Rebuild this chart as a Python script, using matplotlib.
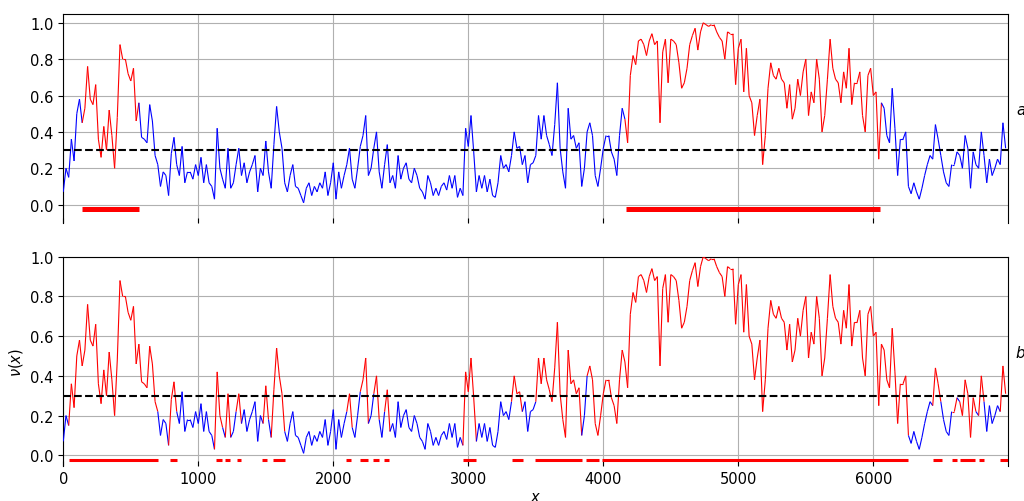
import numpy as np
import matplotlib
matplotlib.use("Agg")
import matplotlib.pyplot as plt
from matplotlib.collections import LineCollection

# ---------------- data ----------------
x_step = 20
nu_values = [
    # 0 .. 1180
    0.07, 0.20, 0.15, 0.36, 0.24, 0.50, 0.58, 0.45, 0.53, 0.76,
    0.58, 0.55, 0.66, 0.36, 0.26, 0.43, 0.30, 0.52, 0.38, 0.20,
    0.48, 0.88, 0.80, 0.80, 0.72, 0.68, 0.75, 0.46, 0.56, 0.37,
    0.36, 0.34, 0.55, 0.46, 0.27, 0.22, 0.10, 0.18, 0.16, 0.05,
    0.28, 0.37, 0.22, 0.16, 0.32, 0.12, 0.18, 0.18, 0.14, 0.22,
    0.16, 0.26, 0.12, 0.22, 0.12, 0.10, 0.03, 0.42, 0.20, 0.14,
    # 1200 .. 2380
    0.09, 0.31, 0.09, 0.12, 0.22, 0.31, 0.16, 0.23, 0.12, 0.18,
    0.22, 0.27, 0.07, 0.20, 0.16, 0.35, 0.18, 0.09, 0.33, 0.54,
    0.40, 0.31, 0.12, 0.07, 0.16, 0.22, 0.10, 0.09, 0.05, 0.01,
    0.09, 0.12, 0.05, 0.10, 0.07, 0.12, 0.09, 0.18, 0.05, 0.12,
    0.23, 0.03, 0.18, 0.09, 0.16, 0.22, 0.31, 0.14, 0.09, 0.20,
    0.32, 0.38, 0.49, 0.16, 0.20, 0.31, 0.40, 0.18, 0.09, 0.22,
    # 2400 .. 3560
    0.33, 0.12, 0.16, 0.09, 0.27, 0.14, 0.20, 0.23, 0.14, 0.12,
    0.20, 0.16, 0.09, 0.07, 0.03, 0.16, 0.12, 0.05, 0.09, 0.05,
    0.10, 0.12, 0.08, 0.16, 0.09, 0.16, 0.04, 0.09, 0.05, 0.42,
    0.32, 0.49, 0.29, 0.07, 0.16, 0.09, 0.16, 0.07, 0.14, 0.05,
    0.04, 0.12, 0.27, 0.20, 0.22, 0.18, 0.27, 0.40, 0.31, 0.32,
    0.22, 0.27, 0.12, 0.22, 0.23, 0.27, 0.49, 0.36, 0.49,
    # 3580 .. 4740
    0.38, 0.33, 0.27, 0.44, 0.67, 0.31, 0.18, 0.09, 0.53, 0.36,
    0.38, 0.31, 0.34, 0.10, 0.20, 0.40, 0.45, 0.38, 0.16, 0.10,
    0.20, 0.31, 0.38, 0.38, 0.29, 0.25, 0.16, 0.38, 0.53, 0.47,
    0.34, 0.71, 0.82, 0.77, 0.90, 0.91, 0.88, 0.82, 0.90, 0.94,
    0.88, 0.90, 0.45, 0.84, 0.91, 0.67, 0.91, 0.90, 0.88, 0.78,
    0.64, 0.67, 0.75, 0.88, 0.93, 0.97, 0.85, 0.95, 1.00,
    # 4760 .. 5920
    0.99, 0.98, 0.99, 0.99, 0.95, 0.92, 0.90, 0.80, 0.95, 0.94,
    0.94, 0.66, 0.86, 0.91, 0.62, 0.86, 0.60, 0.56, 0.38, 0.49,
    0.58, 0.22, 0.38, 0.64, 0.78, 0.71, 0.69, 0.75, 0.69, 0.67,
    0.53, 0.66, 0.47, 0.53, 0.69, 0.60, 0.73, 0.80, 0.49, 0.62,
    0.56, 0.80, 0.69, 0.40, 0.49, 0.69, 0.91, 0.75, 0.69, 0.67,
    0.56, 0.73, 0.64, 0.86, 0.55, 0.67, 0.67, 0.73, 0.49,
    # 5940 .. 6980
    0.40, 0.71, 0.75, 0.60, 0.62, 0.25, 0.56, 0.53, 0.38, 0.34,
    0.64, 0.42, 0.16, 0.36, 0.36, 0.40, 0.10, 0.06, 0.12, 0.07,
    0.03, 0.09, 0.16, 0.22, 0.27, 0.25, 0.44, 0.36, 0.27, 0.18,
    0.12, 0.10, 0.22, 0.22, 0.29, 0.27, 0.20, 0.38, 0.31, 0.09,
    0.29, 0.22, 0.20, 0.40, 0.27, 0.12, 0.25, 0.16, 0.20, 0.25,
    0.22, 0.45, 0.31,
]
x_values = np.arange(len(nu_values)) * x_step

threshold = 0.3

# detected regions (panel a)
regions_a_start = [140, 4170]
regions_a_end = [560, 6050]

# detected regions (panel b)
regions_b_start = [40, 790, 1130, 1200, 1285, 1475, 1550, 2095, 2200, 2295, 2375,
                   2960, 3320, 3495, 3875, 3990, 6445, 6580, 6640, 6785, 6940]
regions_b_end = [700, 840, 1175, 1235, 1320, 1510, 1640, 2130, 2260, 2335, 2415,
                 3055, 3405, 3840, 3970, 6260, 6505, 6620, 6755, 6820, 7000]

x_ticks = [0, 1000, 2000, 3000, 4000, 5000, 6000]
y_ticks = [0.0, 0.2, 0.4, 0.6, 0.8, 1.0]

# ---------------- plotting ----------------
plt.rcParams['font.size'] = 10.5

fig = plt.figure(figsize=(10.24, 5.02), dpi=100)
ax_a = fig.add_axes([0.0618, 0.5542, 0.9229, 0.4165])
ax_b = fig.add_axes([0.0618, 0.0697, 0.9229, 0.4169])

x = np.asarray(x_values, dtype=float)
y = np.asarray(nu_values, dtype=float)
pts = np.column_stack([x, y])
segs = np.stack([pts[:-1], pts[1:]], axis=1)
mids = 0.5 * (x[:-1] + x[1:])


def seg_colors(starts, ends):
    cols = []
    for m in mids:
        inside = any(s <= m <= e for s, e in zip(starts, ends))
        cols.append('red' if inside else 'blue')
    return cols


for ax, starts, ends, bar_y, bar_lw, lab, ylim in [
        (ax_a, regions_a_start, regions_a_end, -0.025, 3.6, 'a', (-0.1, 1.05)),
        (ax_b, regions_b_start, regions_b_end, -0.022, 2.2, 'b', (-0.054, 1.0))]:
    lc = LineCollection(segs, colors=seg_colors(starts, ends), linewidths=0.8, zorder=3)
    ax.add_collection(lc)
    ax.axhline(threshold, color='black', ls='--', lw=1.5, zorder=4)
    ax.hlines([bar_y] * len(starts), starts, ends, colors='red', lw=bar_lw,
              zorder=4, capstyle='butt')
    ax.set_xlim(0, 7000)
    ax.set_ylim(*ylim)
    ax.set_xticks(x_ticks)
    ax.set_yticks(y_ticks)
    ax.grid(True, color='#b0b0b0', lw=0.8, zorder=0)
    ax.set_axisbelow(True)
    ax.spines['bottom'].set_visible(False)
    ax.tick_params(axis='x', direction='in')
    ax.text(1.008, 0.54, lab, transform=ax.transAxes, style='italic',
            ha='left', va='center', fontsize=11)

ax_a.tick_params(axis='x', labelbottom=False)
ax_b.set_ylabel(r'$\nu(x)$')
ax_b.set_xlabel(r'$x$', labelpad=2)

fig.savefig('out.png', dpi=100)
